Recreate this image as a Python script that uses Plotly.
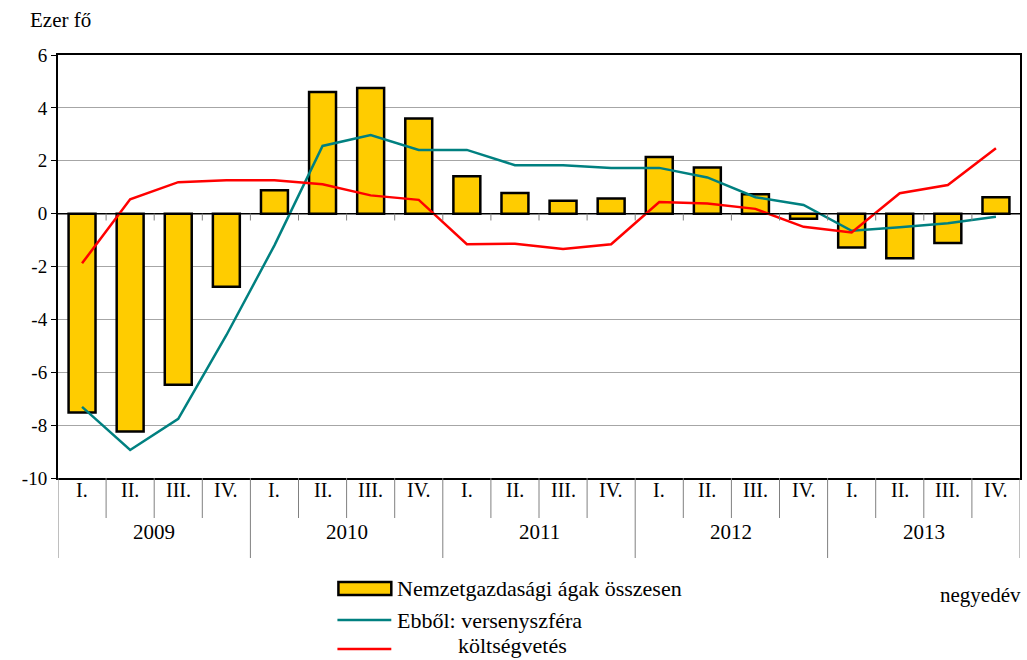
import plotly.graph_objects as go

years = ["2009", "2010", "2011", "2012", "2013"]
quarters = ["I.", "II.", "III.", "IV."]

# ezer fő, negyedéves változás
total = [-7.52, -8.24, -6.47, -2.77, 0.88, 4.60, 4.75, 3.60, 1.41, 0.78,
         0.49, 0.57, 2.14, 1.74, 0.73, -0.19, -1.28, -1.69, -1.11, 0.62]
private = [-7.31, -8.94, -7.76, -4.60, -1.20, 2.56, 2.97, 2.41, 2.41, 1.83,
           1.83, 1.73, 1.73, 1.37, 0.62, 0.33, -0.65, -0.52, -0.36, -0.12]
budget = [-1.88, 0.54, 1.19, 1.26, 1.26, 1.11, 0.69, 0.52, -1.16, -1.14,
          -1.34, -1.16, 0.44, 0.38, 0.18, -0.50, -0.71, 0.77, 1.08, 2.47]

names = ["Nemzetgazdasági ágak összesen", "Ebből: versenyszféra", "költségvetés"]
y_ticks = [-10, -8, -6, -4, -2, 0, 2, 4, 6]

FONT = "'Liberation Serif', 'Times New Roman', serif"
GOLD = "#FFCC00"
TEAL = "#008080"
RED = "#FF0000"

cats = [f"{y} {q}" for y in years for q in quarters]
n = len(cats)

fig = go.Figure()
fig.add_trace(go.Bar(x=cats, y=total, name=names[0],
                     marker=dict(color=GOLD, line=dict(color="black", width=2.5))))
fig.add_trace(go.Scatter(x=cats, y=private, name=names[1], mode="lines",
                         line=dict(color=TEAL, width=2.5)))
fig.add_trace(go.Scatter(x=cats, y=budget, name=names[2], mode="lines",
                         line=dict(color=RED, width=2.5)))

shapes = []
annotations = []

# zero line + little ticks at quarter boundaries
shapes.append(dict(type="line", xref="paper", yref="y", x0=0, x1=1, y0=0, y1=0,
                   line=dict(color="black", width=1.5), layer="above"))
for i in range(n - 1):
    shapes.append(dict(type="line", xref="x", yref="y", x0=i + 0.5, x1=i + 0.5,
                       y0=0, y1=-0.26, line=dict(color="#808080", width=1)))

# category axis below plot: quarter and year separators
q_depth = -40 / 423
y_depth = -80 / 423
for i in range(n + 1):
    depth = y_depth if i % 4 == 0 else q_depth
    shapes.append(dict(type="line", xref="x", yref="paper", x0=i - 0.5, x1=i - 0.5,
                       y0=0, y1=depth, line=dict(color="#808080", width=1)))
for i, c in enumerate(cats):
    annotations.append(dict(x=i, y=-25 / 423, xref="x", yref="paper", text=quarters[i % 4],
                            showarrow=False, font=dict(family=FONT, size=20, color="black")))
for j, y in enumerate(years):
    annotations.append(dict(x=j * 4 + 1.5, y=-68 / 423, xref="x", yref="paper", text=y,
                            showarrow=False, font=dict(family=FONT, size=21, color="black")))

# manual legend
def px_x(p):
    return (p - 58) / 964

def px_y(p):
    return (478 - p) / 423

shapes.append(dict(type="rect", xref="paper", yref="paper", x0=px_x(339), x1=px_x(392),
                   y0=px_y(582), y1=px_y(595), fillcolor=GOLD,
                   line=dict(color="black", width=2.5)))
shapes.append(dict(type="line", xref="paper", yref="paper", x0=px_x(338), x1=px_x(392),
                   y0=px_y(620), y1=px_y(620), line=dict(color=TEAL, width=2.5)))
shapes.append(dict(type="line", xref="paper", yref="paper", x0=px_x(338), x1=px_x(392),
                   y0=px_y(649), y1=px_y(649), line=dict(color=RED, width=2.5)))
for txt, xp, yp in [(names[0], 396, 588), (names[1], 396, 620), (names[2], 457, 645)]:
    annotations.append(dict(x=px_x(xp), y=px_y(yp), xref="paper", yref="paper", text=txt,
                            xanchor="left", yanchor="middle", showarrow=False,
                            font=dict(family=FONT, size=22, color="black")))

annotations.append(dict(x=px_x(1025), y=px_y(595), xref="paper", yref="paper", text="negyedév",
                        xanchor="right", yanchor="middle", showarrow=False,
                        font=dict(family=FONT, size=21, color="black")))
annotations.append(dict(x=px_x(28), y=px_y(20), xref="paper", yref="paper", text="Ezer fő",
                        xanchor="left", yanchor="middle", showarrow=False,
                        font=dict(family=FONT, size=21, color="black")))

fig.update_layout(
    width=1027, height=660,
    margin=dict(l=58, r=5, t=55, b=182),
    paper_bgcolor="white", plot_bgcolor="white",
    showlegend=False,
    bargap=0.44,
    font=dict(family=FONT, size=19, color="black"),
    shapes=shapes,
    annotations=annotations,
)
fig.update_xaxes(type="category", range=[-0.5, n - 0.5], showticklabels=False,
                 showgrid=False, ticks="", showline=True, linecolor="black",
                 linewidth=2, mirror=True)
fig.update_yaxes(range=[-10, 6], tickvals=y_ticks, ticktext=[str(v) for v in y_ticks],
                 showgrid=True, gridcolor="#A6A6A6",
                 gridwidth=1, zeroline=False, ticks="outside", ticklen=5,
                 tickcolor="black", showline=True, linecolor="black", linewidth=2,
                 mirror=True, tickfont=dict(family=FONT, size=19))

# the page body has a default 8px margin; remove it so the figure sits at (0, 0)
fig.write_html("out.html", config={"displayModeBar": False},
               post_script="document.body.style.margin='0px';")
